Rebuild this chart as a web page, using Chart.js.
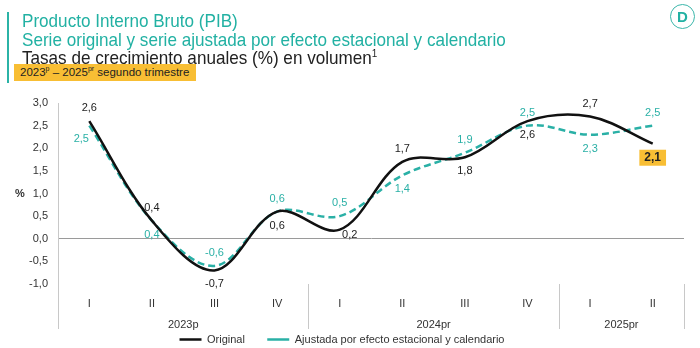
<!DOCTYPE html>
<html>
<head>
<meta charset="utf-8">
<script src="https://cdn.jsdelivr.net/npm/chart.js@4.4.1/dist/chart.umd.min.js"></script>
<style>
    body { margin: 0; background: #fff; }
    #wrap { position: relative; width: 700px; height: 348px; overflow: hidden; font-family: "Liberation Sans", sans-serif; }
    #chart { position: absolute; left: 0; top: 0; }
    .bar { position: absolute; left: 7px; top: 12px; width: 2px; height: 71px; background: #2bb3a6; }
    .t { position: absolute; left: 22px; white-space: nowrap; font-size: 19px; line-height: 19px; transform: scaleX(0.9); transform-origin: left center; }
    .teal { color: #22b1a3; }
    .dark { color: #222; }
    .t sup { font-size: 11px; line-height: 0; }
    .tag { position: absolute; left: 14px; top: 64px; height: 17px; width: 182px; background: #f8be34; color: #222; font-size: 11.5px; line-height: 17px; padding-left: 6px; box-sizing: border-box; white-space: nowrap; }
    .tag sup { font-size: 7px; line-height: 0; }
    .logo { position: absolute; left: 670px; top: 4px; width: 23px; height: 23px; border: 1.5px solid #3bb6aa; border-radius: 50%; color: #22b1a3; font: bold 15px "Liberation Sans", sans-serif; text-align: center; line-height: 23px; }
</style>
</head>
<body>
<div id="wrap">
    <canvas id="chart" width="700" height="348"></canvas>
    <div class="bar"></div>
    <div class="t teal" style="top:11px">Producto Interno Bruto (PIB)</div>
    <div class="t teal" style="top:30px">Serie original y serie ajustada por efecto estacional y calendario</div>
    <div class="t dark" style="top:48px">Tasas de crecimiento anuales (%) en volumen<sup>1</sup></div>
    <div class="tag">2023<sup>p</sup> – 2025<sup>pr</sup> segundo trimestre</div>
    <div class="logo">D</div>
</div>
<script>
// data
const quarters = ['I', 'II', 'III', 'IV', 'I', 'II', 'III', 'IV', 'I', 'II'];
const years = ['2023p', '2024pr', '2025pr'];
const quartersPerYear = [4, 4, 2];
const original = [2.6, 0.4, -0.7, 0.6, 0.2, 1.7, 1.8, 2.6, 2.7, 2.1];
const ajustada = [2.5, 0.4, -0.6, 0.6, 0.5, 1.4, 1.9, 2.5, 2.3, 2.5];

// where each value label sits relative to its point
const originalLabelPos = ['a', 'a', 'b', 'b', 'br', 'a', 'b', 'b', 'a', 'b'];
const ajustadaLabelPos = ['bl', 'b', 'a', 'a', 'a', 'b', 'a', 'a', 'b', 'a'];
const labelOffsets = { a: [0, -13], b: [0, 14], br: [10, 5], bl: [-8, 13] };

const TEAL = '#2ab0a6';
const DARK = '#222';
const FONT = '"Liberation Sans", sans-serif';

Chart.defaults.font.family = FONT;
Chart.defaults.font.size = 11;
Chart.defaults.color = '#333';

const fmt = v => v.toFixed(1).replace('.', ',');

// value labels on every point
const valueLabels = {
    id: 'valueLabels',
    afterDatasetsDraw(chart) {
        const ctx = chart.ctx;
        const positions = [originalLabelPos, ajustadaLabelPos];
        ctx.save();
        ctx.textAlign = 'center';
        ctx.textBaseline = 'middle';
        chart.data.datasets.forEach((ds, di) => {
            chart.getDatasetMeta(di).data.forEach((pt, i) => {
                const off = labelOffsets[positions[di][i]];
                const x = pt.x + off[0];
                const y = pt.y + off[1];
                const text = fmt(ds.data[i]);
                const last = di === 0 && i === ds.data.length - 1;
                if (last) {
                    ctx.font = 'bold 12px ' + FONT;
                    const w = ctx.measureText(text).width + 10;
                    ctx.fillStyle = '#f8be34';
                    ctx.fillRect(x - w / 2, y - 8, w, 16);
                    ctx.fillStyle = DARK;
                } else {
                    ctx.font = '11px ' + FONT;
                    ctx.fillStyle = di === 0 ? DARK : TEAL;
                }
                ctx.fillText(text, x, y);
            });
        });
        ctx.restore();
    }
};

// year groups under the quarter labels, with separators
const yearGroups = {
    id: 'yearGroups',
    afterDraw(chart) {
        const { ctx, chartArea } = chart;
        const x = chart.scales.x;
        const y = chart.scales.y;
        const step = x.getPixelForValue(1) - x.getPixelForValue(0);
        ctx.save();
        ctx.strokeStyle = '#c8c8c8';
        ctx.lineWidth = 1;
        ctx.fillStyle = '#333';
        ctx.font = '11px ' + FONT;
        ctx.textAlign = 'center';
        ctx.textBaseline = 'middle';
        let start = 0;
        const edges = [];
        quartersPerYear.forEach((n, i) => {
            const left = x.getPixelForValue(start) - step / 2;
            const right = x.getPixelForValue(start + n - 1) + step / 2;
            if (i === 0) edges.push(left);
            edges.push(right);
            ctx.fillText(years[i], (left + right) / 2, 325);
            start += n;
        });
        edges.forEach(e => {
            const px = Math.round(e) + 0.5;
            ctx.beginPath();
            ctx.moveTo(px, chartArea.bottom);
            ctx.lineTo(px, 329);
            ctx.stroke();
        });
        // % label next to the 1,0 tick
        ctx.font = 'bold 11px ' + FONT;
        ctx.fillStyle = '#333';
        ctx.fillText('%', 20, y.getPixelForValue(1));
        ctx.restore();
    }
};

new Chart(document.getElementById('chart'), {
    type: 'line',
    data: {
        labels: quarters,
        datasets: [
            {
                label: 'Original',
                data: original,
                borderColor: '#111',
                backgroundColor: '#111',
                borderWidth: 2.5,
                tension: 0.35,
                pointRadius: 0
            },
            {
                label: 'Ajustada por efecto estacional y calendario',
                data: ajustada,
                borderColor: TEAL,
                backgroundColor: TEAL,
                borderWidth: 2.5,
                borderDash: [7, 4],
                tension: 0.35,
                pointRadius: 0
            }
        ]
    },
    options: {
        responsive: false,
        animation: false,
        layout: { padding: { top: 103, left: 0, right: 16, bottom: -7 } },
        scales: {
            x: {
                offset: true,
                grid: { display: false, drawTicks: false },
                border: { display: false },
                ticks: { padding: 13, maxRotation: 0, autoSkip: false, color: '#333' },
                afterFit(scale) { scale.height = 46; }
            },
            y: {
                min: -1,
                max: 3,
                ticks: { stepSize: 0.5, padding: 10, color: '#333', callback: v => fmt(v) },
                grid: {
                    drawTicks: false,
                    color: ctx => ctx.tick && ctx.tick.value === 0 ? '#9a9a9a' : 'rgba(0,0,0,0)'
                },
                border: { display: true, color: '#c8c8c8' },
                afterFit(scale) { scale.width = 58; }
            }
        },
        plugins: {
            legend: {
                position: 'bottom',
                labels: {
                    usePointStyle: true,
                    pointStyle: 'line',
                    pointStyleWidth: 22,
                    padding: 4,
                    color: '#333',
                    font: { size: 11 },
                    // wider gap after the first entry, as in the original legend
                    generateLabels(chart) {
                        const items = Chart.defaults.plugins.legend.labels.generateLabels(chart);
                        items[0].text += '      ';
                        return items;
                    }
                }
            },
            tooltip: { enabled: false }
        }
    },
    plugins: [valueLabels, yearGroups]
});
</script>
</body>
</html>
